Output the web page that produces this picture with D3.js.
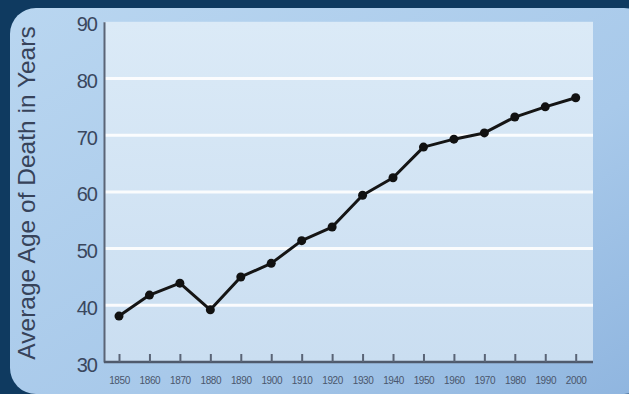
<!DOCTYPE html>
<html><head><meta charset="utf-8">
<script src="https://cdn.jsdelivr.net/npm/d3@7"></script>
<style>html,body{margin:0;padding:0;background:#0f3a60;overflow:hidden}</style>
</head><body>
<svg id="c" width="629" height="394"></svg>
<script>
const years = [1850,1860,1870,1880,1890,1900,1910,1920,1930,1940,1950,1960,1970,1980,1990,2000];
const ages  = [38.1,41.8,43.9,39.2,45.0,47.4,51.4,53.8,59.4,62.5,67.9,69.3,70.4,73.2,75.0,76.6];
const yTicks = [30,40,50,60,70,80,90];
const yTitle = "Average Age of Death in Years";

(function(){
const svg = d3.select("#c");
const defs = svg.append("defs");
const pg = defs.append("linearGradient").attr("id","pg").attr("x1","0").attr("y1","0").attr("x2","1").attr("y2","1");
pg.append("stop").attr("offset","0").attr("stop-color","#b9d6f0");
pg.append("stop").attr("offset","0.6").attr("stop-color","#a8c9ea");
pg.append("stop").attr("offset","1").attr("stop-color","#8fb5df");
const ag = defs.append("linearGradient").attr("id","ag").attr("x1","0").attr("y1","0").attr("x2","0").attr("y2","1");
ag.append("stop").attr("offset","0").attr("stop-color","#dbeaf7");
ag.append("stop").attr("offset","1").attr("stop-color","#cadef1");

svg.append("rect").attr("width",629).attr("height",394).attr("fill","#0f3a60");
svg.append("rect").attr("x",10).attr("y",8).attr("width",640).attr("height",386).attr("rx",26).attr("fill","url(#pg)");

const pL = 104, pR = 593, pT = 21.8, pB = 362;
const x = d3.scaleLinear().domain([1850,2000]).range([119,575.7]);
const y = d3.scaleLinear().domain([30,90]).range([pB, pT]);

svg.append("rect").attr("x",pL).attr("y",pT).attr("width",pR-pL).attr("height",pB-pT).attr("fill","url(#ag)");

svg.append("g").selectAll("line").data(yTicks.filter(d=>d>30 && d<90)).join("line")
  .attr("x1",pL).attr("x2",pR).attr("y1",d=>y(d)).attr("y2",d=>y(d))
  .attr("stroke","#ffffff").attr("stroke-width",3).attr("opacity",0.9);

const yAxis = svg.append("g").attr("transform",`translate(${pL},0)`)
  .call(d3.axisLeft(y).tickValues(yTicks).tickSize(0).tickPadding(7));
yAxis.select(".domain").attr("stroke","#5a6476").attr("stroke-width",2);
yAxis.selectAll("text").attr("font-family","Liberation Sans, Arial, sans-serif").attr("font-size",20)
  .attr("letter-spacing",-1).attr("fill","#3a475e").attr("dy","0.45em");

const xAxis = svg.append("g").attr("transform",`translate(0,${pB})`)
  .call(d3.axisBottom(x).tickValues(years).tickFormat(d3.format("d")).tickSize(-8).tickPadding(14));
xAxis.select(".domain").attr("d",`M${pL},0H${pR}`).attr("stroke","#4f5a6c").attr("stroke-width",2.5);
xAxis.selectAll(".tick line").attr("stroke","#5a6476").attr("stroke-width",2);
xAxis.selectAll("text").attr("font-family","Liberation Sans, Arial, sans-serif").attr("font-size",10)
  .attr("letter-spacing",-0.4).attr("fill","#4a566c").attr("dy","0.75em");

svg.append("text").attr("transform",`translate(34.5,${193}) rotate(-90)`)
  .attr("text-anchor","middle").attr("font-family","Liberation Sans, Arial, sans-serif")
  .attr("font-size",24.5).attr("fill","#37435a").text(yTitle);

const pts = years.map((yr,i)=>[yr,ages[i]]);
svg.append("path").datum(pts)
  .attr("d", d3.line().x(d=>x(d[0])).y(d=>y(d[1])))
  .attr("fill","none").attr("stroke","#151515").attr("stroke-width",3).attr("stroke-linejoin","round");
svg.append("g").selectAll("circle").data(pts).join("circle")
  .attr("cx",d=>x(d[0])).attr("cy",d=>y(d[1])).attr("r",4.5).attr("fill","#111");
})();
</script>
</body></html>
